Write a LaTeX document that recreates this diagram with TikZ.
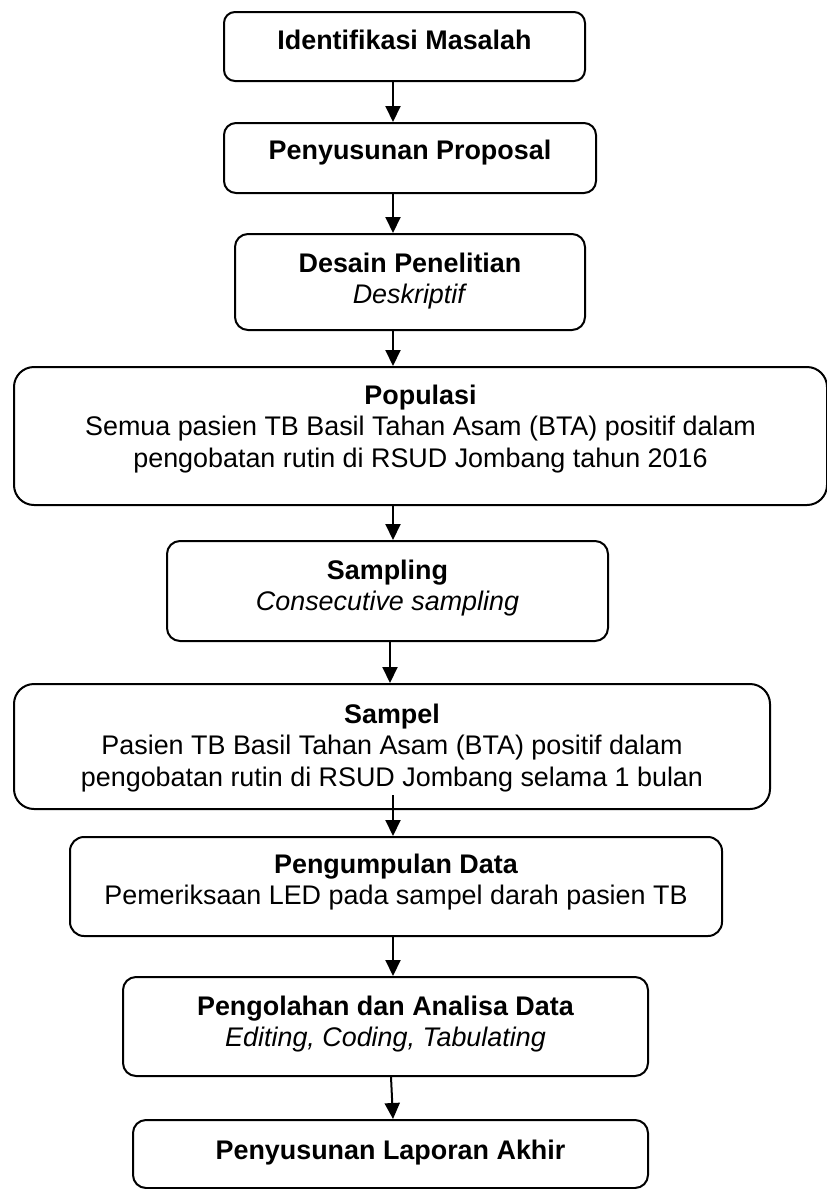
\documentclass[tikz,border=0pt]{standalone}
\usepackage{fontspec}
\setmainfont{Liberation Sans}
\usetikzlibrary{arrows.meta,calc}
\begin{document}
\begin{tikzpicture}[x=1pt,y=-1pt]
\tikzset{
  box/.style={draw, line width=2pt, rounded corners=#1, inner sep=0pt, anchor=north west},
  box/.default=12pt,
  txt/.style={inner sep=0pt, anchor=base, font=\fontsize{26.9}{31.5}\selectfont},
  arr/.style={line width=2pt, -{Triangle[width=15pt,length=16pt]}},
}
\useasboundingbox (0,0) rectangle (827,1189);
% boxes
\node[box=11pt, minimum width=361pt, minimum height=69pt] (b1) at (223,11) {};
\node[box=12pt, minimum width=372pt, minimum height=70pt] (b2) at (223,122) {};
\node[box=13pt, minimum width=350pt, minimum height=96pt] (b3) at (234,233) {};
\node[box=20pt, minimum width=813pt, minimum height=138pt] (b4) at (13,366) {};
\node[box=13pt, minimum width=441pt, minimum height=100pt] (b5) at (166,540) {};
\node[box=20pt, minimum width=756pt, minimum height=125pt] (b6) at (13,683) {};
\node[box=14pt, minimum width=652pt, minimum height=99pt] (b7) at (69,836) {};
\node[box=13pt, minimum width=525pt, minimum height=99pt] (b8) at (122,976) {};
\node[box=13pt, minimum width=515pt, minimum height=68pt] (b9) at (132,1119) {};
% texts
\node[txt] (t1) at ($(b1.north)+(0,38)$) {\textbf{Identifikasi Masalah}};
\node[txt] (t2) at ($(b2.north)+(0,37)$) {\textbf{Penyusunan Proposal}};
\node[txt] (t3) at ($(b3.north)+(0,39)$) {\begin{tabular}[t]{@{}c@{}}\textbf{Desain Penelitian}\\ \textit{Deskriptif}\end{tabular}};
\node[txt] (t4) at ($(b4.north)+(0,38)$) {\begin{tabular}[t]{@{}c@{}}\textbf{Populasi}\\ Semua pasien TB Basil Tahan Asam (BTA) positif dalam\\ pengobatan rutin di RSUD Jombang tahun 2016\end{tabular}};
\node[txt] (t5) at ($(b5.north)+(0,39)$) {\begin{tabular}[t]{@{}c@{}}\textbf{Sampling}\\ \textit{Consecutive sampling}\end{tabular}};
\node[txt] (t6) at ($(b6.north)+(0,40)$) {\begin{tabular}[t]{@{}c@{}}\textbf{Sampel}\\ Pasien TB Basil Tahan Asam (BTA) positif dalam\\ pengobatan rutin di RSUD Jombang selama 1 bulan\end{tabular}};
\node[txt] (t7) at ($(b7.north)+(0,37)$) {\begin{tabular}[t]{@{}c@{}}\textbf{Pengumpulan Data}\\ Pemeriksaan LED pada sampel darah pasien TB\end{tabular}};
\node[txt] (t8) at ($(b8.north)+(0,39)$) {\begin{tabular}[t]{@{}c@{}}\textbf{Pengolahan dan Analisa Data}\\ \textit{Editing, Coding, Tabulating}\end{tabular}};
\node[txt] (t9) at ($(b9.north)+(0,40)$) {\textbf{Penyusunan Laporan Akhir}};
% connectors
\coordinate (ax) at (393,0);
\coordinate (ax5) at (390,0);
\coordinate (ax8) at (391,0);
\coordinate (a6) at (393,795);
\draw[arr] (b1.south -| ax) -- (b2.north -| ax);
\draw[arr] (b2.south -| ax) -- (b3.north -| ax);
\draw[arr] (b3.south -| ax) -- (b4.north -| ax);
\draw[arr] (b4.south -| ax) -- (b5.north -| ax);
\draw[arr] (b5.south -| ax5) -- (b6.north -| ax5);
\draw[arr] (a6) -- (b7.north -| ax);
\draw[arr] (b7.south -| ax) -- (b8.north -| ax);
\draw[arr] (b8.south -| ax8) -- (b9.north -| ax);
\end{tikzpicture}
\end{document}
